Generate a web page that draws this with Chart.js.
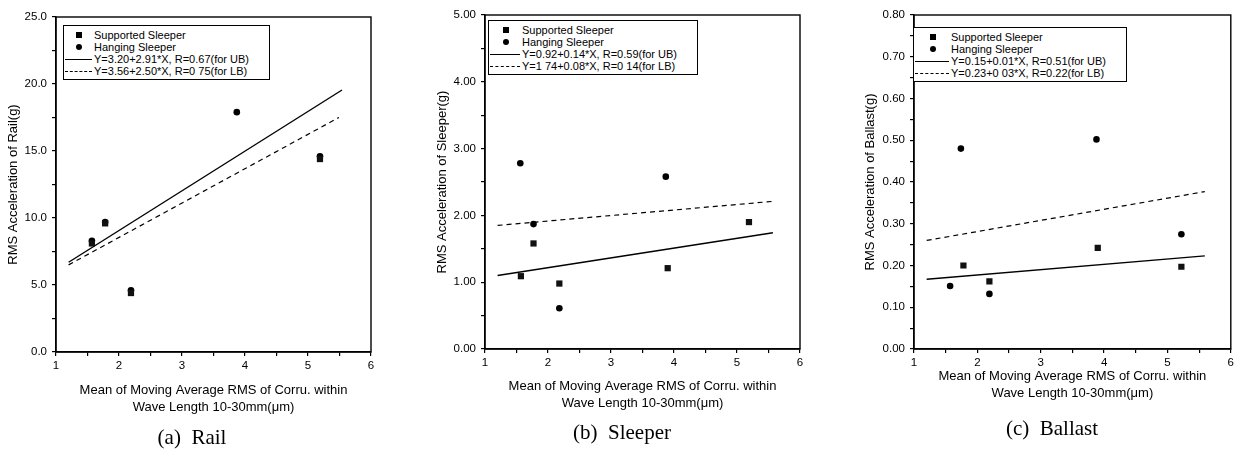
<!DOCTYPE html>
<html>
<head>
<meta charset="utf-8">
<script src="https://cdn.jsdelivr.net/npm/chart.js@4.4.1/dist/chart.umd.min.js"></script>
<style>
  body { margin: 0; background: #fff; }
  #page { position: relative; width: 1237px; height: 452px; overflow: hidden; font-family: "Liberation Sans", Arial, sans-serif; color: #000; }
  canvas { position: absolute; top: 0; }
  .legend { position: absolute; border: 1px solid #000; background: #fff; font-size: 11px; line-height: 12px; padding: 3px 20px 2px 0; }
  .legend .row { display: flex; align-items: center; white-space: nowrap; height: 12px; }
  .key { position: relative; height: 12px; flex: none; }
  .key.sq::after { content: ''; position: absolute; left: 50%; top: 3px; width: 6px; height: 6px; margin-left: -3px; background: #000; }
  .key.dot::after { content: ''; position: absolute; left: 50%; top: 3px; width: 6px; height: 6px; margin-left: -3px; border-radius: 50%; background: #000; }
  .key.solid::after { content: ''; position: absolute; left: 1px; right: 2px; top: 6px; border-top: 1.3px solid #000; }
  .key.dash::after { content: ''; position: absolute; left: 1px; right: 2px; top: 6px; border-top: 1.3px dashed #000; }
  .caption { position: absolute; font-family: "Liberation Serif", "Times New Roman", serif; font-size: 21px; line-height: 24px; transform: translateX(-50%); white-space: nowrap; }
</style>
</head>
<body>
<div id="page">
  <canvas id="rail" width="400" height="452" style="left:0px"></canvas>
  <canvas id="sleeper" width="400" height="452" style="left:429px"></canvas>
  <canvas id="ballast" width="380" height="452" style="left:857px"></canvas>
</div>
<script>
// values
const xLabels = ['1', '2', '3', '4', '5', '6']

const railSupportedX = [1.57, 1.78, 2.19, 5.19]
const railSupportedY = [8.1, 9.6, 4.4, 14.4]
const railHangingX = [1.57, 1.78, 2.19, 3.87, 5.19]
const railHangingY = [8.3, 9.7, 4.6, 17.9, 14.6]
const railUBX = [1.2, 5.54]
const railUBY = [6.7, 19.55]
const railLBX = [1.2, 5.49]
const railLBY = [6.5, 17.5]
const railLegend = ['Supported Sleeper', 'Hanging Sleeper', 'Y=3.20+2.91*X, R=0.67(for UB)', 'Y=3.56+2.50*X, R=0 75(for LB)']

const sleeperSupportedX = [1.57, 1.77, 2.18, 3.9, 5.19]
const sleeperSupportedY = [1.09, 1.58, 0.98, 1.21, 1.90]
const sleeperHangingX = [1.56, 1.77, 2.18, 3.87]
const sleeperHangingY = [2.78, 1.87, 0.61, 2.58]
const sleeperUBX = [1.2, 5.57]
const sleeperUBY = [1.10, 1.74]
const sleeperLBX = [1.2, 5.57]
const sleeperLBY = [1.85, 2.21]
const sleeperLegend = ['Supported Sleeper', 'Hanging Sleeper', 'Y=0.92+0.14*X, R=0.59(for UB)', 'Y=1 74+0.08*X, R=0 14(for LB)']

const ballastSupportedX = [1.78, 2.19, 3.9, 5.22]
const ballastSupportedY = [0.200, 0.162, 0.242, 0.197]
const ballastHangingX = [1.57, 1.74, 2.19, 3.88, 5.22]
const ballastHangingY = [0.151, 0.480, 0.132, 0.502, 0.275]
const ballastUBX = [1.2, 5.59]
const ballastUBY = [0.167, 0.223]
const ballastLBX = [1.2, 5.59]
const ballastLBY = [0.260, 0.377]
const ballastLegend = ['Supported Sleeper', 'Hanging Sleeper', 'Y=0.15+0.01*X, R=0.51(for UB)', 'Y=0.23+0 03*X, R=0.22(for LB)']

const xTitle = ['Mean of Moving Average RMS of Corru. within', 'Wave Length 10-30mm(\u03bcm)']
const FONT = '"Liberation Sans", Arial, sans-serif'

const pts = (xs, ys) => xs.map((x, i) => ({ x, y: ys[i] }))
const isMajor = (v, step) => Math.abs(v / step - Math.round(v / step)) < 1e-6

// box around the plot area
const frame = {
  id: 'frame',
  afterDraw(chart) {
    const { ctx, chartArea: a } = chart
    ctx.save()
    ctx.strokeStyle = '#000'
    ctx.lineWidth = 1.4
    ctx.strokeRect(a.left, a.top, a.width, a.height)
    ctx.restore()
  }
}

function makePanel(id, p) {
  const datasets = [
    { label: 'Supported Sleeper', data: pts(p.sx, p.sy), pointStyle: 'rect', pointRadius: 4.4, backgroundColor: '#111', borderColor: '#111', borderWidth: 0 },
    { label: 'Hanging Sleeper', data: pts(p.hx, p.hy), pointStyle: 'circle', pointRadius: 3.3, backgroundColor: '#000', borderColor: '#000', borderWidth: 0 },
    { label: 'UB', data: pts(p.ubx, p.uby), showLine: true, pointRadius: 0, borderColor: '#000', borderWidth: 1.4 },
    { label: 'LB', data: pts(p.lbx, p.lby), showLine: true, pointRadius: 0, borderColor: '#000', borderWidth: 1.2, borderDash: [5, 4] }
  ]
  new Chart(document.getElementById(id), {
    type: 'scatter',
    data: { datasets },
    options: {
      responsive: false,
      animation: false,
      layout: { padding: { top: p.top, right: p.right, bottom: p.bottom, left: 0 } },
      plugins: { legend: { display: false }, tooltip: { enabled: false } },
      scales: {
        x: {
          type: 'linear', min: 1, max: 6,
          ticks: { stepSize: 0.5, autoSkip: false, maxRotation: 0, color: '#000', padding: 3, font: { size: 11.5, family: FONT },
            callback: v => isMajor(v, 1) ? xLabels[Math.round(v) - 1] : '' },
          grid: { drawOnChartArea: false, tickLength: 4, color: '#000', lineWidth: 1.2 },
          border: { color: '#000', width: 1.4 },
          title: { display: true, text: xTitle, color: '#000', padding: 0, font: { size: 13, family: FONT, lineHeight: 1.3 } },
          afterFit: s => { s.height = p.xh }
        },
        y: {
          min: 0, max: p.ymax,
          ticks: { stepSize: p.ystep / 2, autoSkip: false, color: '#000', padding: 5, font: { size: 11.5, family: FONT },
            callback: v => isMajor(v, p.ystep) ? v.toFixed(p.dec) : '' },
          grid: { drawOnChartArea: false, tickLength: 4, color: '#000', lineWidth: 1.2 },
          border: { color: '#000', width: 1.4 },
          title: { display: true, text: p.ytitle, color: '#000', padding: 5, font: { size: 13, family: FONT, lineHeight: 1.3 } },
          afterFit: s => { s.width = p.yw }
        }
      }
    },
    plugins: [frame]
  })

  // legend box inside the plot, drawn as html
  const page = document.getElementById('page')
  const box = document.createElement('div')
  box.className = 'legend'
  box.style.left = p.lg.left + 'px'
  box.style.top = p.lg.top + 'px'
  const keys = ['sq', 'dot', 'solid', 'dash']
  p.legend.forEach((txt, i) => {
    const row = document.createElement('div')
    row.className = 'row'
    row.innerHTML = '<span class="key ' + keys[i] + '" style="width:' + p.lg.key + 'px"></span><span>' + txt + '</span>'
    box.appendChild(row)
  })
  page.appendChild(box)

  const cap = document.createElement('div')
  cap.className = 'caption'
  cap.style.left = p.cap.x + 'px'
  cap.style.top = p.cap.y + 'px'
  cap.innerHTML = p.cap.text
  page.appendChild(cap)
}

makePanel('rail', {
  sx: railSupportedX, sy: railSupportedY, hx: railHangingX, hy: railHangingY,
  ubx: railUBX, uby: railUBY, lbx: railLBX, lby: railLBY,
  ymax: 25, ystep: 5, dec: 1, ytitle: 'RMS Acceleration of Rail(g)',
  top: 17, right: 29, bottom: 36, xh: 64, yw: 56,
  legend: railLegend, lg: { left: 63, top: 25, key: 30 },
  cap: { x: 192, y: 425, text: '(a)&nbsp;&nbsp;Rail' }
})

makePanel('sleeper', {
  sx: sleeperSupportedX, sy: sleeperSupportedY, hx: sleeperHangingX, hy: sleeperHangingY,
  ubx: sleeperUBX, uby: sleeperUBY, lbx: sleeperLBX, lby: sleeperLBY,
  ymax: 5, ystep: 1, dec: 2, ytitle: 'RMS Acceleration of Sleeper(g)',
  top: 15, right: 29, bottom: 40, xh: 63, yw: 56,
  legend: sleeperLegend, lg: { left: 488, top: 20, key: 33 },
  cap: { x: 622, y: 420, text: '(b)&nbsp;&nbsp;Sleeper' }
})

makePanel('ballast', {
  sx: ballastSupportedX, sy: ballastSupportedY, hx: ballastHangingX, hy: ballastHangingY,
  ubx: ballastUBX, uby: ballastUBY, lbx: ballastLBX, lby: ballastLBY,
  ymax: 0.8, ystep: 0.1, dec: 2, ytitle: 'RMS Acceleration of Ballast(g)',
  top: 15, right: 6, bottom: 50, xh: 53, yw: 57,
  legend: ballastLegend, lg: { left: 913, top: 27, key: 37 },
  cap: { x: 1052, y: 416, text: '(c)&nbsp;&nbsp;Ballast' }
})
</script>
</body>
</html>
